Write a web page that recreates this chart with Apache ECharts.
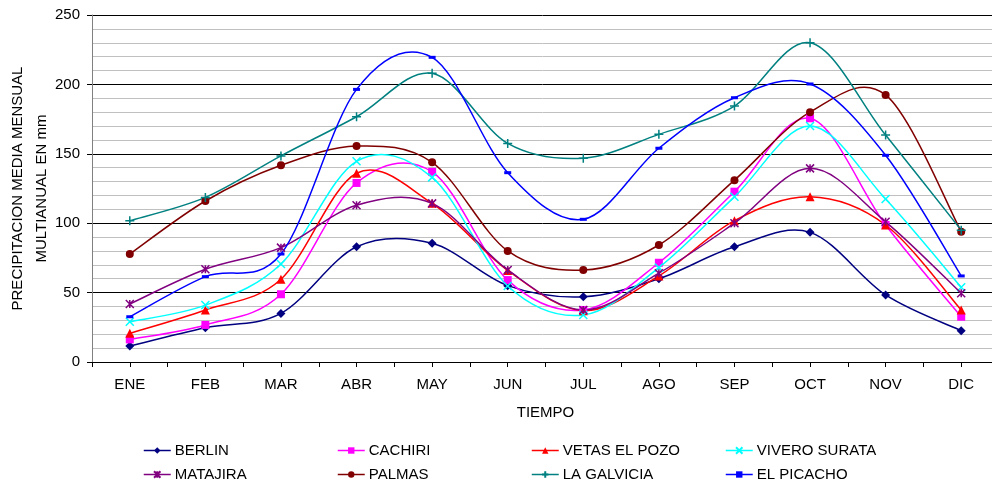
<!DOCTYPE html>
<html>
<head>
<meta charset="utf-8">
<script src="https://cdn.jsdelivr.net/npm/echarts@6/dist/echarts.min.js"></script>
<style>html,body{margin:0;padding:0;background:#fff}#c{width:992px;height:487px}</style>
</head>
<body>
<div id="c"></div>
<script>
const months = ['ENE','FEB','MAR','ABR','MAY','JUN','JUL','AGO','SEP','OCT','NOV','DIC'];
const berlin   = [11.5, 24.7, 35, 83, 85.5, 55, 47, 60, 83, 93.4, 48.3, 22.6];
const cachiri  = [16.3, 26.7, 48.8, 129, 137, 59, 37.5, 71.5, 122.7, 175.6, 98.7, 32.6];
const vetas    = [20.7, 37.5, 59.6, 136, 114.3, 66, 37, 62, 101.8, 119, 98.7, 37.5];
const vivero   = [29, 41, 70.6, 144.6, 133, 54.8, 33.9, 68, 119, 170, 117.4, 53.8];
const matajira = [41.8, 66.8, 82.4, 113, 114.3, 66.3, 37.5, 64, 100, 139.5, 101, 49.5];
const palmas   = [77.8, 116, 141.7, 155.6, 143.9, 80, 66.3, 84.3, 131, 180, 192.4, 93.9];
const galvicia = [101.8, 118.6, 148.5, 176.7, 208, 157.5, 146.8, 164, 184.4, 230, 163.5, 95];
const picacho  = [32.6, 61.5, 77.8, 196.4, 219.5, 136.4, 102.8, 154, 190.4, 200.3, 148.9, 62];
const seriesNames = ['BERLIN','CACHIRI','VETAS EL POZO','VIVERO SURATA','MATAJIRA','PALMAS','LA GALVICIA','EL PICACHO'];
const yTicks = [0, 50, 100, 150, 200, 250];

const X_PATH = 'path://M0,0L10,10M10,0L0,10';
const PLUS_PATH = 'path://M5,0L5,10M0,5L10,5';
const AST_PATH = 'path://M0,0L10,10M10,0L0,10M5,0L5,10';

const defs = [
  {data: berlin,   color: '#000080', symbol: 'diamond', size: 9},
  {data: cachiri,  color: '#FF00FF', symbol: 'rect', size: 8},
  {data: vetas,    color: '#FF0000', symbol: 'triangle', size: 9},
  {data: vivero,   color: '#00FFFF', symbol: X_PATH, size: 8, stroke: true},
  {data: matajira, color: '#800080', symbol: AST_PATH, size: 8, stroke: true},
  {data: palmas,   color: '#800000', symbol: 'circle', size: 8},
  {data: galvicia, color: '#008080', symbol: PLUS_PATH, size: 9, stroke: true},
  {data: picacho,  color: '#0000FF', symbol: 'rect', size: [7, 3]}
];

const FONT = 'Liberation Sans, Arial, sans-serif';
const FS = 15;

// Smoothed curves (Excel-style Catmull-Rom Bezier), drawn via the chart's coordinate system
const curveSeries = defs.map((d, s) => ({
  type: 'custom',
  name: '_curve' + s,
  silent: true,
  animation: false,
  z: 2,
  data: d.data.map((v, i) => [i, v]),
  encode: {x: 0, y: 1},
  renderItem: function (params, api) {
    const arr = d.data;
    const i = api.value(0);
    if (i >= arr.length - 1) return null;
    const n = arr.length;
    const p = j => api.coord([Math.max(0, Math.min(n - 1, j)), arr[Math.max(0, Math.min(n - 1, j))]]);
    const pm = p(i - 1), p0 = p(i), p1 = p(i + 1), p2 = p(i + 2);
    return {
      type: 'bezierCurve',
      shape: {
        x1: p0[0], y1: p0[1], x2: p1[0], y2: p1[1],
        cpx1: p0[0] + (p1[0] - pm[0]) / 6, cpy1: p0[1] + (p1[1] - pm[1]) / 6,
        cpx2: p1[0] - (p2[0] - p0[0]) / 6, cpy2: p1[1] - (p2[1] - p0[1]) / 6
      },
      style: {stroke: d.color, lineWidth: 1.5, fill: null}
    };
  }
}));

const markerSeries = defs.map((d, i) => ({
  name: seriesNames[i],
  type: 'line',
  data: d.data,
  symbol: d.symbol,
  symbolSize: d.size,
  showAllSymbol: true,
  lineStyle: {color: d.color, width: 1.5, opacity: 0},
  itemStyle: d.stroke ? {color: d.color, borderColor: d.color, borderWidth: 1.5} : {color: d.color, borderWidth: 0},
  emphasis: {disabled: true},
  animation: false,
  z: 3
}));

const legendLefts = [138, 332, 526, 720];
const legends = seriesNames.map((nm, i) => ({
  data: [nm],
  left: legendLefts[i % 4],
  top: i < 4 ? 438 : 462,
  itemWidth: 27,
  itemHeight: 8,
  selectedMode: false,
  lineStyle: {opacity: 1, width: 1.5},
  textStyle: {fontFamily: FONT, fontSize: FS, color: '#000', padding: [0, 0, 0, -1]}
}));

const chart = echarts.init(document.getElementById('c'), null, {renderer: 'canvas'});
chart.setOption({
  backgroundColor: '#fff',
  animation: false,
  grid: {left: 92, top: 15, width: 907, height: 347, containLabel: false, outerBoundsMode: 'none'},
  legend: legends,
  xAxis: [{
    type: 'category',
    data: months,
    boundaryGap: true,
    name: 'TIEMPO',
    nameLocation: 'middle',
    nameGap: 43,
    nameMoveOverlap: false,
    nameTextStyle: {fontFamily: FONT, fontSize: FS, color: '#000'},
    axisLine: {lineStyle: {color: '#000', width: 1}},
    axisTick: {show: false},
    axisLabel: {fontFamily: FONT, fontSize: FS, color: '#000', margin: 15},
    splitLine: {show: false}
  }, {
    type: 'value',
    min: 0, max: 24, interval: 1,
    position: 'bottom',
    axisLine: {show: false},
    axisTick: {show: true, length: 5, inside: false, lineStyle: {color: '#000'}},
    axisLabel: {show: false},
    splitLine: {show: false}
  }],
  yAxis: {
    type: 'value',
    min: yTicks[0], max: yTicks[yTicks.length - 1], interval: 50,
    name: 'PRECIPITACION MEDIA MENSUAL\nMULTIANUAL EN mm',
    nameLocation: 'middle',
    nameGap: 38,
    nameMoveOverlap: false,
    nameTextStyle: {fontFamily: FONT, fontSize: FS, color: '#000', lineHeight: 24},
    axisLine: {show: true, lineStyle: {color: '#808080', width: 1}},
    axisTick: {show: true, length: 5, lineStyle: {color: '#000'}},
    axisLabel: {fontFamily: FONT, fontSize: FS, color: '#000', margin: 12},
    splitLine: {show: true, lineStyle: {color: '#000', width: 1}},
    minorTick: {show: false, splitNumber: 5},
    minorSplitLine: {show: true, lineStyle: {color: '#c0c0c0', width: 1}}
  },
  series: curveSeries.concat(markerSeries)
});
</script>
</body>
</html>
